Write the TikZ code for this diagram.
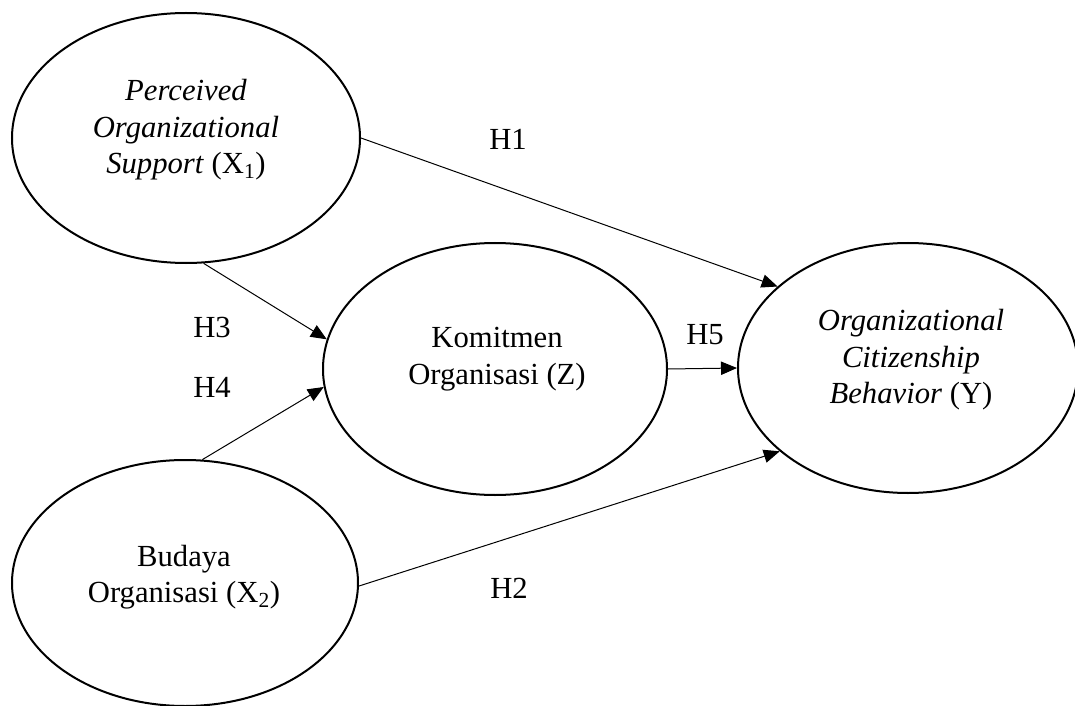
\documentclass[tikz,border=0pt]{standalone}
\usepackage{fontspec}
\setmainfont{Liberation Serif}
\usetikzlibrary{arrows.meta,shapes.geometric}
\begin{document}
\begin{tikzpicture}[x=0.75pt,y=-0.75pt,
  var/.style={ellipse, draw, line width=1.5pt, inner sep=0pt},
  lbl/.style={font=\fontsize{23}{27.4}\selectfont, align=center, inner sep=0pt},
  hyp/.style={font=\fontsize{23}{27.4}\selectfont, inner sep=0pt},
  arr/.style={-{Triangle[length=12pt,width=10pt]}, line width=0.75pt}]
\useasboundingbox (0,0) rectangle (1075,706);
% ellipses
\node[var, minimum width=261pt, minimum height=187.5pt] (X1) at (186,138) {};
\node[var, minimum width=258pt, minimum height=189pt] (Z) at (495,369) {};
\node[var, minimum width=255pt, minimum height=187.5pt] (Y) at (908,368) {};
\node[var, minimum width=259.5pt, minimum height=184.5pt] (X2) at (185,583) {};
% texts
\node[lbl] (tX1) at (186,130) {\textit{Perceived}\\\textit{Organizational}\\\textit{Support} (X\textsubscript{1})};
\node[lbl] (tZ) at (497,359) {Komitmen\\Organisasi (Z)};
\node[lbl] (tY) at (911,360) {\textit{Organizational}\\\textit{Citizenship}\\\textit{Behavior} (Y)};
\node[lbl] (tX2) at (184,577) {Budaya\\Organisasi (X\textsubscript{2})};
% hypothesis labels
\node[hyp] (H1) at (508,139) {H1};
\node[hyp] (H2) at (509,588) {H2};
\node[hyp] (H3) at (212,327) {H3};
\node[hyp] (H4) at (212,387) {H4};
\node[hyp] (H5) at (705,335) {H5};
% connectors
\draw[arr] (X1.0) -- (Y.148);
\draw[arr] (X1.-82) -- (Z.170);
\draw[arr] (X2.82) -- (Z.186);
\draw[arr] (X2.-1) -- (Y.213);
\draw[arr] (Z.0) -- (Y.180);
\end{tikzpicture}
\end{document}
